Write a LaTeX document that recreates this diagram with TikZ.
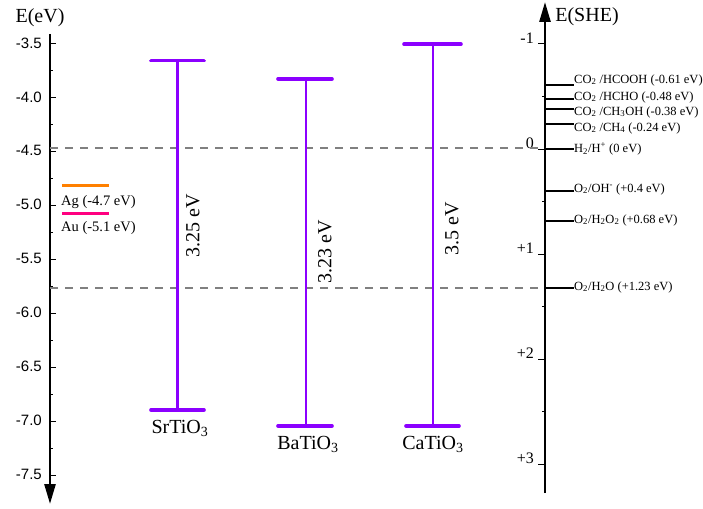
\documentclass[tikz,border=0pt]{standalone}
\usepackage{fontspec}
\setmainfont{Liberation Serif}
\newfontfamily\axisfont{Liberation Sans}
\usetikzlibrary{arrows.meta}
\definecolor{bandviolet}{RGB}{139,0,255}
\definecolor{agorange}{RGB}{255,128,0}
\definecolor{aupink}{RGB}{255,0,128}
\definecolor{dashgray}{RGB}{128,128,128}
\tikzset{
  axisline/.style={line width=2.6pt, -{Triangle[length=20pt,width=11pt]}},
  majortick/.style={line width=1pt},
  minortick/.style={line width=1pt},
  vacdash/.style={dashgray, line width=1.3pt, dash pattern=on 8pt off 7pt},
  gapline/.style={bandviolet, line width=2.4pt},
  capline/.style={bandviolet, line width=3.6pt, line cap=round},
  levelline/.style={line width=1.7pt},
  leftlabel/.style={font=\axisfont\fontsize{15}{17}\selectfont, anchor=east, inner sep=0pt},
  rightlabel/.style={font=\fontsize{16}{18}\selectfont, anchor=east, inner sep=0pt},
  levellabel/.style={font=\fontsize{12.5}{14}\selectfont, anchor=west, inner sep=0pt},
  matlabel/.style={font=\fontsize{20}{22}\selectfont, inner sep=0pt},
  gaplabel/.style={font=\fontsize{20}{22}\selectfont, rotate=90, inner sep=0pt},
  metallabel/.style={font=\fontsize{14.5}{16}\selectfont, anchor=west, inner sep=0pt},
  titlelabel/.style={font=\fontsize{20}{22}\selectfont, inner sep=0pt}
}
\begin{document}
\begin{tikzpicture}[x=1pt,y=-1pt]
\useasboundingbox (0,0) rectangle (703,508);
% ---------- left axis (vacuum scale) ----------
\coordinate (LAtop) at (50,34);
\coordinate (LAbot) at (50,504);
\draw[axisline] (LAtop) -- (LAbot);
\node[titlelabel] (Eev) at (40,18) {E(eV)};
\foreach \v [count=\i from 0] in {-3.5,-4.0,-4.5,-5.0,-5.5,-6.0,-6.5,-7.0,-7.5}{
  \coordinate (LT\i) at (50,44+\i*53.9);
  \draw[majortick] (LT\i) -- ++(6,0);
  \node[leftlabel] (LL\i) at (42,44+\i*53.9-1) {\v};
}
\foreach \i in {0,...,7}{
  \coordinate (LM\i) at (50,44+26.95+\i*53.9);
  \draw[minortick] (LM\i) -- ++(3,0);
}
% ---------- right axis (SHE scale) ----------
\coordinate (RAbot) at (545,493);
\coordinate (RAtop) at (545,2);
\draw[axisline] (RAbot) -- (RAtop);
\node[titlelabel] (Eshe) at (587,17) {E(SHE)};
\foreach \v [count=\i from 0] in {-1,0,+1,+2,+3}{
  \coordinate (RT\i) at (545,44+\i*105);
  \draw[majortick] (RT\i) -- ++(-7,0);
  \node[rightlabel] (RL\i) at (534,44+\i*105-6) {\v};
}
\foreach \i in {0,...,3}{
  \coordinate (RM\i) at (545,44+52.5+\i*105);
  \draw[minortick] (RM\i) -- ++(-3,0);
}
% ---------- vacuum / redox dashed lines ----------
\coordinate (D1a) at (50,148);  \coordinate (D1b) at (545,148);
\coordinate (D2a) at (50,288);  \coordinate (D2b) at (545,288);
\draw[vacdash] (D1a) -- (D1b);
\draw[vacdash] (D2a) -- (D2b);
% ---------- redox levels ----------
\foreach \n/\ly/\ty/\txt in {
  hcooh/85/80/{CO\textsubscript{2} /HCOOH (-0.61 eV)},
  hcho/98.7/97/{CO\textsubscript{2} /HCHO (-0.48 eV)},
  chhoh/108.7/112/{CO\textsubscript{2} /CH\textsubscript{3}OH (-0.38 eV)},
  chf/124/128/{CO\textsubscript{2} /CH\textsubscript{4} (-0.24 eV)},
  hh/149/149/{H\textsubscript{2}/H\textsuperscript{+} (0 eV)},
  ooh/191/189/{O\textsubscript{2}/OH\textsuperscript{-} (+0.4 eV)},
  ohho/220.7/220/{O\textsubscript{2}/H\textsubscript{2}O\textsubscript{2} (+0.68 eV)},
  oho/288/287/{O\textsubscript{2}/H\textsubscript{2}O (+1.23 eV)}}{
  \coordinate (\n a) at (545,\ly);
  \coordinate (\n b) at (574,\ly);
  \draw[levelline] (\n a) -- (\n b);
  \node[levellabel] (\n t) at (574,\ty) {\txt};
}
% ---------- metals ----------
\coordinate (Aga) at (62,185);   \coordinate (Agb) at (109,185);
\coordinate (Aua) at (62,213);   \coordinate (Aub) at (109,213);
\draw[agorange, line width=3pt] (Aga) -- (Agb);
\draw[aupink, line width=3pt] (Aua) -- (Aub);
\node[metallabel] (Agt) at (61,202) {Ag (-4.7 eV)};
\node[metallabel] (Aut) at (61,228) {Au (-5.1 eV)};
% ---------- band gaps ----------
\foreach \n/\xc/\yt/\yb/\tl/\tr/\bl/\br/\gx/\gy/\gap/\ly/\lx/\mat in {
  sr/177.3/60.7/410/151/204/151/204/193/226/3.25 eV/428/180/SrTiO\textsubscript{3},
  ba/305.7/79/426/278/332/278/332/325/252/3.23 eV/444/308/BaTiO\textsubscript{3},
  ca/432.7/44.3/426/404/461/406/459/452/229/3.5 eV/444/433/CaTiO\textsubscript{3}}{
  \coordinate (\n top) at (\xc,\yt);
  \coordinate (\n bot) at (\xc,\yb);
  \coordinate (\n tl) at (\tl,\yt); \coordinate (\n tr) at (\tr,\yt);
  \coordinate (\n bl) at (\bl,\yb); \coordinate (\n br) at (\br,\yb);
  \draw[gapline] (\n top) -- (\n bot);
  \draw[capline] (\n tl) -- (\n tr);
  \draw[capline] (\n bl) -- (\n br);
  \node[gaplabel] (\n gap) at (\gx,\gy) {\gap};
  \node[matlabel] (\n name) at (\lx,\ly) {\mat};
}
\end{tikzpicture}
\end{document}
